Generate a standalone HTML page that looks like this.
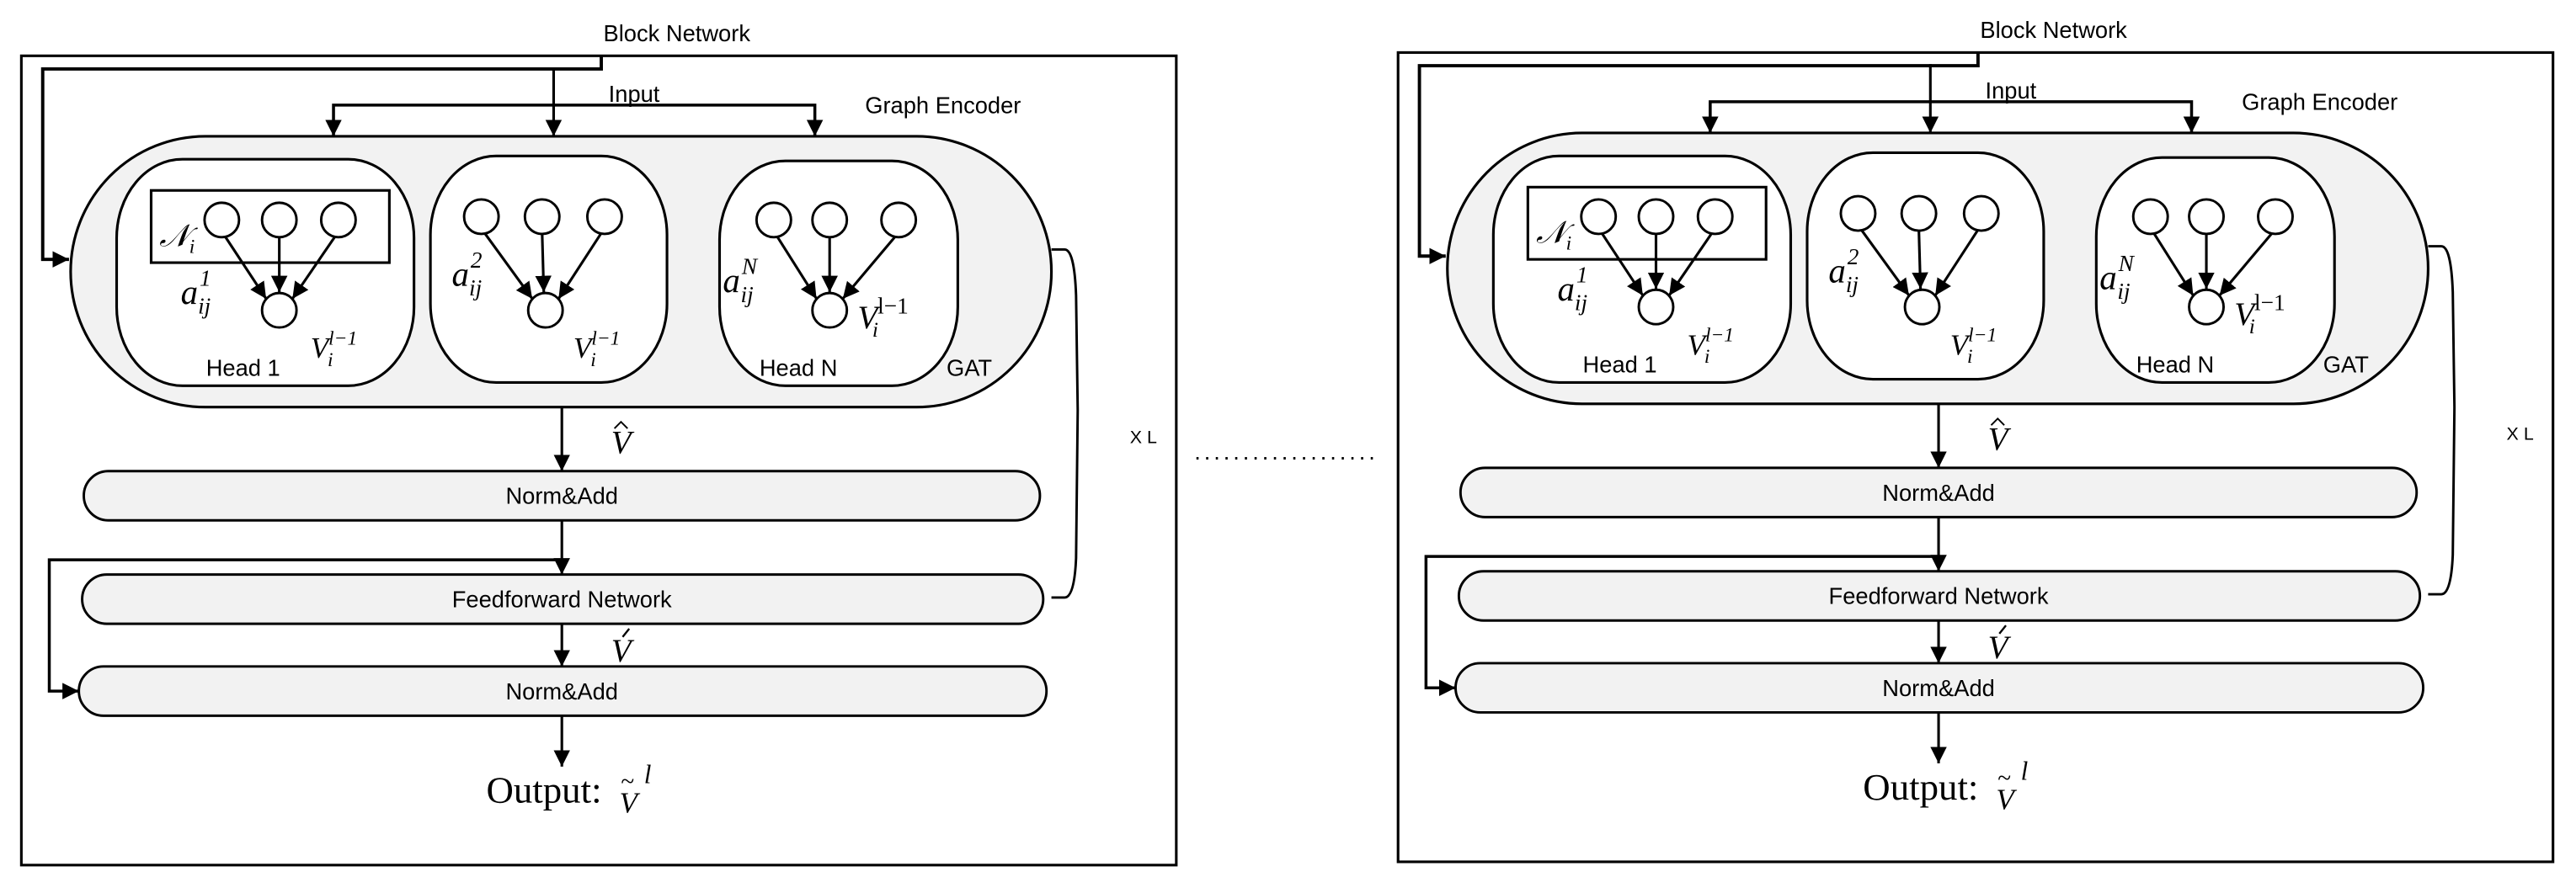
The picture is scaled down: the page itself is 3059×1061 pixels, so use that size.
<!DOCTYPE html>
<html><head><meta charset="utf-8"><style>
html,body{margin:0;padding:0;background:#fff;}
svg{display:block;}
.s{font-family:"Liberation Sans",sans-serif;}
.m{font-family:"Liberation Serif",serif;font-style:italic;}
</style></head><body>
<svg width="3059" height="1061" viewBox="0 0 1568 544" preserveAspectRatio="none" xmlns="http://www.w3.org/2000/svg">
<defs>
<marker id="ar" markerUnits="userSpaceOnUse" markerWidth="10" markerHeight="10" viewBox="0 0 10 10" refX="10" refY="5" orient="auto"><path d="M0,0 L10,5 L0,10 z" fill="#000"/></marker>
<g id="panel">
<rect x="13" y="34" width="703" height="493" fill="none" stroke="#000" stroke-width="1.6"/>
<text x="412" y="25" class="s" font-size="14" text-anchor="middle">Block Network</text>
<polyline points="366,34 366,42 26,42 26,158 42,158" fill="none" stroke="#000" stroke-width="2" marker-end="url(#ar)"/>
<line x1="337" y1="41" x2="337" y2="83" stroke="#000" stroke-width="1.6" marker-end="url(#ar)"/>
<polyline points="203,83 203,64 496,64 496,83" fill="none" stroke="#000" stroke-width="1.8" marker-end="url(#ar)"/>
<line x1="203" y1="64" x2="203" y2="83" stroke="#000" stroke-width="1.6" marker-end="url(#ar)"/>
<text x="386" y="62" class="s" font-size="14" text-anchor="middle">Input</text>
<text x="574" y="69" class="s" font-size="14" text-anchor="middle">Graph Encoder</text>
<rect x="43" y="83" width="597" height="165" rx="82" ry="82.5" fill="#f2f2f2" stroke="#000" stroke-width="1.6"/>
<rect x="71" y="97" width="181" height="138" rx="40" ry="48" fill="#fff" stroke="#000" stroke-width="1.6"/>
<rect x="262" y="95" width="144" height="138" rx="40" ry="48" fill="#fff" stroke="#000" stroke-width="1.6"/>
<rect x="438" y="98" width="145" height="137" rx="40" ry="48" fill="#fff" stroke="#000" stroke-width="1.6"/>
<rect x="92" y="116" width="145" height="44" fill="none" stroke="#000" stroke-width="1.6"/>
<g fill="#fff" stroke="#000" stroke-width="1.5">
<circle cx="135" cy="134" r="10.5"/><circle cx="170" cy="134" r="10.5"/><circle cx="206" cy="134" r="10.5"/><circle cx="170" cy="189" r="10.5"/>
<circle cx="293" cy="132" r="10.5"/><circle cx="330" cy="132" r="10.5"/><circle cx="368" cy="132" r="10.5"/><circle cx="332" cy="189" r="10.5"/>
<circle cx="471" cy="134" r="10.5"/><circle cx="505" cy="134" r="10.5"/><circle cx="547" cy="134" r="10.5"/><circle cx="505" cy="189" r="10.5"/>
</g>
<g stroke="#000" stroke-width="1.6" marker-end="url(#ar)">
<line x1="137" y1="144" x2="162" y2="182"/><line x1="170" y1="145" x2="170" y2="178"/><line x1="204" y1="144" x2="178" y2="182"/>
<line x1="295" y1="142" x2="324" y2="182"/><line x1="330" y1="142" x2="331" y2="178"/><line x1="366" y1="142" x2="340" y2="182"/>
<line x1="473" y1="144" x2="497" y2="182"/><line x1="505" y1="145" x2="505" y2="178"/><line x1="545" y1="144" x2="513" y2="182"/>
</g>
<text x="97" y="150" class="m" font-size="19">𝒩<tspan font-size="12" dy="4">i</tspan></text>
<text x="110" y="185" class="m" font-size="21">a<tspan font-size="14" dx="1" dy="-11">1</tspan><tspan font-size="14" dx="-8" dy="17">ij</tspan></text>
<text x="275" y="174" class="m" font-size="21">a<tspan font-size="14" dx="1" dy="-11">2</tspan><tspan font-size="14" dx="-8" dy="17">ij</tspan></text>
<text x="440" y="178" class="m" font-size="21">a<tspan font-size="14" dx="1" dy="-11">N</tspan><tspan font-size="14" dx="-10" dy="17">ij</tspan></text>
<text x="189" y="218" class="m" font-size="18">V<tspan font-size="12" dy="-8">l−1</tspan><tspan font-size="12" dx="-18" dy="13">i</tspan></text>
<text x="349" y="218" class="m" font-size="18">V<tspan font-size="12" dy="-8">l−1</tspan><tspan font-size="12" dx="-18" dy="13">i</tspan></text>
<text x="522" y="200" class="m" font-size="20">V<tspan font-size="14" font-style="normal" dy="-9">l−1</tspan><tspan font-size="13" dx="-22" dy="14">i</tspan></text>
<text x="148" y="229" class="s" font-size="14" text-anchor="middle">Head 1</text>
<text x="486" y="229" class="s" font-size="14" text-anchor="middle">Head N</text>
<text x="590" y="229" class="s" font-size="14" text-anchor="middle">GAT</text>
<path d="M640,152 L648,152 Q654,152 655,180 L656,250 L655,340 Q654,364 648,364 L640,364" fill="none" stroke="#000" stroke-width="1.5"/>
<text x="696" y="270" class="s" font-size="11" text-anchor="middle">X L</text>
<line x1="342" y1="248" x2="342" y2="287" stroke="#000" stroke-width="1.6" marker-end="url(#ar)"/>
<text x="372" y="276" class="m" font-size="20">V</text>
<path d="M374,261 L378,257 L382,261" fill="none" stroke="#000" stroke-width="1"/>
<rect x="51" y="287" width="582" height="30" rx="15" ry="15" fill="#f2f2f2" stroke="#000" stroke-width="1.5"/>
<text x="342" y="307" class="s" font-size="14" text-anchor="middle">Norm&amp;Add</text>
<line x1="342" y1="317" x2="342" y2="350" stroke="#000" stroke-width="1.6" marker-end="url(#ar)"/>
<polyline points="342,341 30,341 30,421 48,421" fill="none" stroke="#000" stroke-width="1.8" marker-end="url(#ar)"/>
<rect x="50" y="350" width="585" height="30" rx="15" ry="15" fill="#f2f2f2" stroke="#000" stroke-width="1.5"/>
<text x="342" y="370" class="s" font-size="14" text-anchor="middle">Feedforward Network</text>
<line x1="342" y1="380" x2="342" y2="406" stroke="#000" stroke-width="1.6" marker-end="url(#ar)"/>
<text x="372" y="403" class="m" font-size="20">V</text>
<line x1="379" y1="388" x2="383" y2="383" stroke="#000" stroke-width="1.2"/>
<rect x="48" y="406" width="589" height="30" rx="15" ry="15" fill="#f2f2f2" stroke="#000" stroke-width="1.5"/>
<text x="342" y="426" class="s" font-size="14" text-anchor="middle">Norm&amp;Add</text>
<line x1="342" y1="436" x2="342" y2="467" stroke="#000" stroke-width="1.6" marker-end="url(#ar)"/>
<text x="296" y="489" font-family="Liberation Serif,serif" font-size="23">Output:</text>
<text x="377" y="495" class="m" font-size="18">V</text>
<text x="378" y="481" font-family="Liberation Serif,serif" font-size="15">~</text>
<text x="392" y="477" class="m" font-size="16">l</text>
</g>
</defs>
<use href="#panel"/>
<use href="#panel" transform="translate(838,-2)"/>
<text x="727" y="280" font-family="Liberation Sans,sans-serif" font-size="14" textLength="110" lengthAdjust="spacing">...................</text>
</svg>
</body></html>
